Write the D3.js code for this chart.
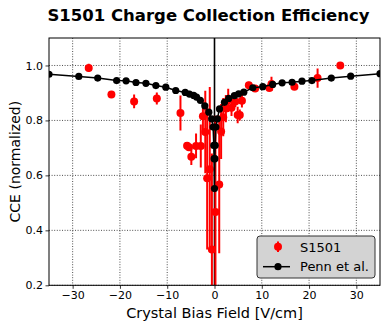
<!DOCTYPE html>
<html><head><meta charset="utf-8">
<script src="https://cdn.jsdelivr.net/npm/d3@7/dist/d3.min.js"></script>
<style>
html,body{margin:0;padding:0;background:#fff;}
svg{display:block;font-family:"DejaVu Sans",sans-serif;}
</style></head>
<body><svg id="c" width="390" height="327"></svg>
<script>
// ---- data ----
const s1501X = [-26.6,-21.8,-17.0,-12.2,-7.2,-5.8,-5.4,-4.9,-3.9,-2.9,-2.45,-1.95,-1.55,-1.0,-0.55,0.2,1.0,1.4,1.85,2.4,2.9,3.6,4.4,4.9,5.35,5.8,7.26,8.6,11.6,12.05,16.9,21.8,26.6];
const s1501Y = [0.991,0.894,0.869,0.880,0.827,0.708,0.702,0.668,0.707,0.707,0.815,0.758,0.590,0.622,0.330,0.467,0.567,0.760,0.812,0.843,0.873,0.846,0.869,0.820,0.820,0.872,0.928,0.916,0.918,0.933,0.923,0.954,1.000];
const s1501Err = [0.015,0.004,0.025,0.022,0.064,0.008,0.008,0.030,0.045,0.078,0.060,0.150,0.260,0.300,0.350,0.350,0.250,0.100,0.070,0.050,0.042,0.030,0.020,0.030,0.020,0.025,0.013,0.004,0.004,0.026,0.004,0.035,0.004];
const pennX = [-35,-28.7,-24.7,-20.7,-18.7,-16.6,-14.5,-12.4,-10.3,-8.2,-6.2,-5.3,-4.4,-3.8,-3.0,-2.05,-1.2,-0.6,-0.3,-0.15,-0.08,0,0.08,0.15,0.3,0.6,1.06,2.1,3.0,4.2,5.1,6.2,8.1,10.2,12.3,14.3,16.4,18.5,20.6,24.7,28.8,35];
const pennY = [0.968,0.960,0.954,0.945,0.944,0.938,0.935,0.927,0.921,0.909,0.902,0.896,0.891,0.885,0.873,0.853,0.830,0.806,0.776,0.709,0.661,0.552,0.661,0.709,0.776,0.806,0.842,0.866,0.880,0.890,0.897,0.903,0.919,0.923,0.931,0.937,0.939,0.943,0.945,0.954,0.961,0.970];
const xTicks = [-30,-20,-10,0,10,20,30];
const yTicks = [0.2,0.4,0.6,0.8,1.0];
const titleText = "S1501 Charge Collection Efficiency";
const xLabel = "Crystal Bias Field [V/cm]";
const yLabel = "CCE (normalized)";
const legendLabels = ["S1501","Penn et al."];

// ---- layout ----
const L=49, R=380, T=38, B=285.3;
const svg = d3.select("#c");
const x = d3.scaleLinear().domain([-35,35]).range([L,R]);
const y = d3.scaleLinear().domain([0.2,1.1]).range([B,T]);

svg.append("defs").append("clipPath").attr("id","clip")
  .append("rect").attr("x",L).attr("y",T).attr("width",R-L).attr("height",B-T);

// grid
const grid = svg.append("g");
grid.selectAll(".gx").data(xTicks).join("line")
  .attr("x1",d=>x(d)).attr("x2",d=>x(d)).attr("y1",T).attr("y2",B)
  .attr("stroke","#222").attr("stroke-width",0.8).attr("stroke-dasharray","1,1.6");
grid.selectAll(".gy").data(yTicks).join("line")
  .attr("y1",d=>y(d)).attr("y2",d=>y(d)).attr("x1",L).attr("x2",R)
  .attr("stroke","#222").attr("stroke-width",0.8).attr("stroke-dasharray","1,1.6");

const plot = svg.append("g").attr("clip-path","url(#clip)");
// axvline at 0
plot.append("line").attr("x1",x(0)).attr("x2",x(0)).attr("y1",T).attr("y2",B)
  .attr("stroke","#000").attr("stroke-width",1.6);

// S1501 error bars
const s1501 = s1501X.map((v,i)=>({x:v,y:s1501Y[i],e:s1501Err[i]}));
plot.selectAll(".eb").data(s1501).join("line")
  .attr("x1",d=>x(d.x)).attr("x2",d=>x(d.x))
  .attr("y1",d=>y(d.y-d.e)).attr("y2",d=>y(d.y+d.e))
  .attr("stroke","#ff0000").attr("stroke-width",2);
plot.selectAll(".sp").data(s1501).join("circle")
  .attr("cx",d=>x(d.x)).attr("cy",d=>y(d.y)).attr("r",4)
  .attr("fill","#ff0000");

// Penn
const penn = pennX.map((v,i)=>({x:v,y:pennY[i]}));
plot.append("path").datum(penn)
  .attr("d",d3.line().x(d=>x(d.x)).y(d=>y(d.y)))
  .attr("fill","none").attr("stroke","#000").attr("stroke-width",1.5);
plot.selectAll(".pp").data(penn).join("circle")
  .attr("cx",d=>x(d.x)).attr("cy",d=>y(d.y)).attr("r",3.6).attr("fill","#000");

// axes
const xa = svg.append("g").attr("transform",`translate(0,${B})`)
  .call(d3.axisBottom(x).tickValues(xTicks).tickSize(3.5).tickPadding(2.5).tickFormat(d3.format("d")));
const ya = svg.append("g").attr("transform",`translate(${L},0)`)
  .call(d3.axisLeft(y).tickValues(yTicks).tickSize(3.5).tickPadding(2.5).tickFormat(d3.format(".1f")));
[xa,ya].forEach(a=>{
  a.select(".domain").remove();
  a.selectAll("text").attr("font-size",11).attr("fill","#000").attr("font-family","DejaVu Sans");
  a.selectAll(".tick line").attr("stroke","#000").attr("stroke-width",0.8);
});
// frame
svg.append("rect").attr("x",L).attr("y",T).attr("width",R-L).attr("height",B-T)
  .attr("fill","none").attr("stroke","#000").attr("stroke-width",1);

// labels
svg.append("text").attr("x",208.5).attr("y",20.5).attr("text-anchor","middle")
  .attr("font-size",16.5).attr("font-weight","bold").text(titleText);
svg.append("text").attr("x",(L+R)/2).attr("y",318).attr("text-anchor","middle")
  .attr("font-size",14.5).text(xLabel);
svg.append("text").attr("transform",`translate(20,${(T+B)/2}) rotate(-90)`)
  .attr("text-anchor","middle").attr("font-size",14).text(yLabel);

// legend
const lg = svg.append("g");
lg.append("rect").attr("x",257).attr("y",236).attr("width",118).attr("height",42).attr("rx",3)
  .attr("fill","#d3d3d3").attr("stroke","#333").attr("stroke-width",1);
lg.append("line").attr("x1",278).attr("x2",278).attr("y1",241.5).attr("y2",252)
  .attr("stroke","#ff0000").attr("stroke-width",2);
lg.append("circle").attr("cx",278).attr("cy",246.8).attr("r",4).attr("fill","#ff0000");
lg.append("line").attr("x1",263).attr("x2",290).attr("y1",266.7).attr("y2",266.7)
  .attr("stroke","#000").attr("stroke-width",1.5);
lg.append("circle").attr("cx",278).attr("cy",266.7).attr("r",3.6).attr("fill","#000");
lg.selectAll(".lt").data(legendLabels).join("text")
  .attr("x",300).attr("y",(d,i)=>251.5+i*19.5).attr("font-size",13).text(d=>d);
</script></body></html>
